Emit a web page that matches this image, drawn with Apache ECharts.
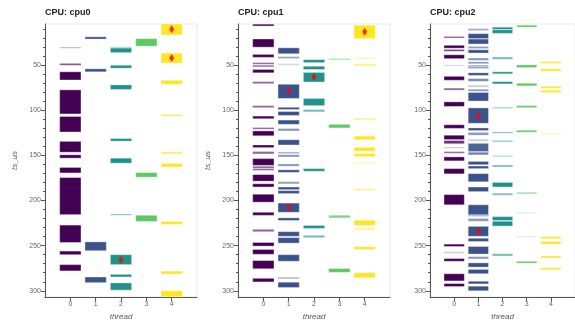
<!DOCTYPE html>
<html><head><meta charset="utf-8">
<script src="https://cdn.jsdelivr.net/npm/echarts@6/dist/echarts.min.js"></script>
<style>html,body{margin:0;padding:0;background:#fff}#c{width:575px;height:326px}</style>
</head><body><div id="c"></div>
<script>
const cpuNames = ['cpu0', 'cpu1', 'cpu2'];
const threads = [0, 1, 2, 3, 4];
const yTicks = [50, 100, 150, 200, 250, 300];

// per cpu, per thread: [start_us, end_us, weight]
const cpu0Bars = [
  [[30,31,0.35],[48,50,0.7],[57.3,66.4,1],[77.3,104,1],[106.8,124,1],[134.4,146.4,1],[149.3,153,1],[163.3,169.4,1],[174.5,215.6,1],[227.2,246.5,1],[256,260,1],[271,278,1]],
  [[18.5,21,1],[54,57.3,1],[245.8,255.6,1],[284.7,291,1]],
  [[29.5,31,0.4],[31,36,1],[50,53.3,1],[71.8,76.9,1],[131.2,134.1,1],[153,158.6,1],[214.9,216.3,0.5],[260,271,1],[281.8,284.7,1],[291.3,299.3,1]],
  [[20.5,28.9,1],[169,174.1,1],[216.3,223.2,1]],
  [[4,16.5,1],[36.6,47.5,1],[66.7,71.1,1],[104.5,106.2,1],[146,148.4,0.7],[158.8,162.8,1],[223.2,226.5,1],[278.2,281.4,1],[300,306.6,1]]
];
const cpu1Bars = [
  [[4.5,6.5,1],[20.9,30,1],[38,41.3,1],[47.1,48.9,0.6],[50,51.8,0.6],[54.7,58.4,1],[68.2,70.4,0.6],[94.8,97,0.6],[106.4,109.3,1],[119.1,120.9,0.6],[122.8,128.2,1],[138.4,141.3,1],[145.7,148.3,0.6],[153.5,161,1],[162,164.5,0.6],[165,166.5,0.7],[171.2,178.5,1],[181.4,185,1],[193,201.8,1],[213,216.4,1],[231.9,234.5,0.6],[246.5,250.5,1],[254.2,259.6,1],[266.5,275.6,1],[286.2,290.2,1]],
  [[30.7,37.3,1],[40.5,42.4,0.6],[48.2,50,0.2],[71.1,86.8,1],[96.6,99.1,1],[101.3,105.7,1],[110.8,115.5,1],[120.2,122.8,0.6],[132.6,138.4,1],[146.1,147.9,0.45],[149.2,151.7,0.6],[159.4,161.9,0.6],[165.9,168.8,1],[179.2,181.4,0.6],[185,187.9,1],[189,192.3,1],[202.8,213,1],[219.2,222.1,1],[234.5,239.6,1],[241.1,247.2,1],[260,267.3,1],[284.7,286.9,0.35],[290.5,296.4,1]],
  [[43.8,47.1,1],[51.1,54.7,1],[58,68.6,1],[86.8,94.8,1],[99.1,101.7,0.6],[164.6,167.5,1],[227.6,230.9,1],[238.5,241.1,0.6]],
  [[42.4,44.2,0.45],[115.5,119.5,1],[216.3,219.2,0.8],[275.3,279.6,1]],
  [[5.6,20.5,1],[41.3,43.4,0.3],[48.5,50.7,0.6],[108.6,110.4,0.6],[128.6,132.6,1],[141,145.4,1],[147.9,151.2,1],[157.4,159.5,0.25],[186.8,188.6,0.6],[221.8,227.6,1],[230.5,232.3,0.6],[251.2,254.2,1],[280,285.5,1]]
];
const cpu2Bars = [
  [[18.1,19.9,0.6],[27.9,31.1,1],[32.6,34.5,0.8],[38.4,42.7,1],[49.6,51,0.15],[62.3,66.7,1],[75.4,77.6,0.6],[90.6,95.7,1],[116,120,1],[127.6,132.4,1],[133.5,137,0.8],[140.7,142.2,0.2],[145.8,147.6,0.6],[151.6,156,1],[164.6,170.4,1],[193.4,204.7,1],[248.3,250.9,1],[256.7,258.5,0.2],[264.3,267.3,1],[281.1,289.1,1],[292,295.3,1]],
  [[9.5,11.5,0.5],[15,20.5,1],[21,26.5,1],[29.3,31.4,0.6],[32.9,36.5,1],[42,44.6,0.6],[46.4,48.2,0.7],[50,51.6,0.6],[52,53.6,0.6],[58.4,61.3,1],[64.9,67.8,0.7],[71.8,74.4,0.25],[76.6,78.8,0.6],[80.2,89.7,1],[97.3,114.4,1],[119.5,122.4,1],[124.6,127.5,0.6],[131.9,134.4,0.25],[136.6,145.7,0.9],[146.4,149.4,0.7],[156.6,160.3,1],[161.7,164.6,1],[170.1,179.2,1],[185,190.1,1],[204.7,215.8,1],[216.3,217.5,0.6],[219.9,222.9,0.6],[228.6,239.6,1],[241.8,245.4,1],[250.9,259.3,1],[262.2,264.7,0.6],[269.1,273.8,1],[276.3,281.1,1],[289.4,292.4,1],[294.9,300,1]],
  [[7.8,10.3,1],[10.7,14.7,1],[40.9,43.4,0.6],[57.3,59.5,1],[68.2,70.7,1],[96.2,98,0.35],[123.9,125.3,0.6],[133.3,135.1,0.45],[150.1,151.5,0.35],[160.6,162.8,0.6],[179.9,185,1],[191.9,194.1,0.6],[217.8,222.1,1],[222.9,228.3,1],[258.9,261.5,0.6]],
  [[5.6,7.8,1],[49.6,52.6,1],[70,72.9,1],[94.8,97,1],[122.1,124.2,1],[190.8,192.6,0.6],[213.4,214.5,0.3],[239.6,240.7,0.3],[267.3,269.4,1]],
  [[46,47.9,1],[54,56.5,1],[73.3,75.5,1],[77.7,80.2,1],[125.3,126.8,0.35],[240,242.2,1],[245.4,248.3,1],[261.5,263.7,1],[274.5,276.7,1]]
];
// marked events: [thread, ts_us]
const cpu0Marks = [[4,10],[4,42],[2,265.5]];
const cpu1Marks = [[4,12.9],[1,78.4],[2,63.1],[1,207.6]];
const cpu2Marks = [[1,106.4],[1,234.1]];

const allBars = [cpu0Bars, cpu1Bars, cpu2Bars];
const allMarks = [cpu0Marks, cpu1Marks, cpu2Marks];
const threadColors = ['#440154', '#3b528b', '#21918c', '#5ec962', '#fde725'];

const minorTicks = [];
for (let v = 10; v <= 300; v += 10) if (v % 50 !== 0) minorTicks.push(v);

const gridLefts = [45, 238, 430];
const Y_MIN = 4.3, Y_MAX = 306.9;

const grid = [], xAxis = [], yAxis = [], series = [], title = [];
cpuNames.forEach((name, i) => {
  grid.push({left: gridLefts[i], top: 24, width: 152, height: 278, show: true, borderColor: '#e9e9e9', borderWidth: 1, containLabel: false});
  title.push({text: 'CPU: ' + name, left: gridLefts[i], top: 8, padding: 0, textStyle: {fontSize: 9, fontWeight: 'bold', color: '#222', fontFamily: 'Liberation Sans'}});
  xAxis.push({
    type: 'value', gridIndex: i, min: -1, max: 5,
    name: 'thread', nameLocation: 'middle', nameGap: 16,
    nameTextStyle: {fontSize: 8, fontStyle: 'italic', color: '#555', fontFamily: 'Liberation Sans'},
    axisLine: {show: true, onZero: false, lineStyle: {color: '#555', width: 1}},
    axisTick: {show: true, customValues: threads, length: 4, lineStyle: {color: '#555'}},
    axisLabel: {customValues: threads, fontSize: 7, color: '#666', margin: 4, fontFamily: 'Liberation Sans'},
    splitLine: {show: false}
  });
  yAxis.push({
    type: 'value', gridIndex: i, min: Y_MIN, max: Y_MAX, inverse: true, position: 'left',
    name: i < 2 ? 'ts_us' : '', nameLocation: 'middle', nameGap: 26, nameRotate: 90,
    nameTextStyle: {fontSize: 8, fontStyle: 'italic', color: '#555', fontFamily: 'Liberation Sans'},
    axisLine: {show: true, onZero: false, lineStyle: {color: '#555', width: 1}},
    axisTick: {show: true, customValues: yTicks, length: 4, lineStyle: {color: '#555'}},
    axisLabel: {customValues: yTicks, fontSize: 7, color: '#666', margin: 4, fontFamily: 'Liberation Sans'},
    splitLine: {show: false}
  });
  yAxis.push({
    type: 'value', gridIndex: i, min: Y_MIN, max: Y_MAX, inverse: true, position: 'left', offset: 0,
    axisLine: {show: false, onZero: false},
    axisTick: {show: true, customValues: minorTicks, length: 2, lineStyle: {color: '#555'}},
    axisLabel: {show: false},
    splitLine: {show: false}
  });
  const data = [];
  allBars[i].forEach((list, t) => list.forEach(b => data.push([t, b[0], b[1], b[2]])));
  series.push({
    type: 'custom', xAxisIndex: i, yAxisIndex: i * 2,
    encode: {x: 0, y: [1, 2]},
    renderItem: function (params, api) {
      const t = api.value(0), s = api.value(1), e = api.value(2), w = api.value(3);
      const p1 = api.coord([t - 0.42, s]);
      const p2 = api.coord([t + 0.42, e]);
      const h = Math.max(Math.abs(p2[1] - p1[1]), 1);
      const rect = echarts.graphic.clipRectByRect(
        {x: p1[0], y: Math.min(p1[1], p2[1]), width: p2[0] - p1[0], height: h},
        {x: params.coordSys.x, y: params.coordSys.y, width: params.coordSys.width, height: params.coordSys.height});
      if (!rect) return;
      return {type: 'rect', shape: rect,
        style: {fill: threadColors[t], opacity: w, stroke: 'rgba(255,255,255,0.7)', lineWidth: 0.5}};
    },
    data: data, silent: true
  });
  series.push({
    type: 'scatter', xAxisIndex: i, yAxisIndex: i * 2,
    symbol: 'diamond', symbolSize: [5, 8],
    itemStyle: {color: '#ff0000'}, z: 5, silent: true,
    data: allMarks[i]
  });
});

const chart = echarts.init(document.getElementById('c'), null, {renderer: 'canvas'});
chart.setOption({animation: false, backgroundColor: '#fff', title, grid, xAxis, yAxis, series});
</script></body></html>
